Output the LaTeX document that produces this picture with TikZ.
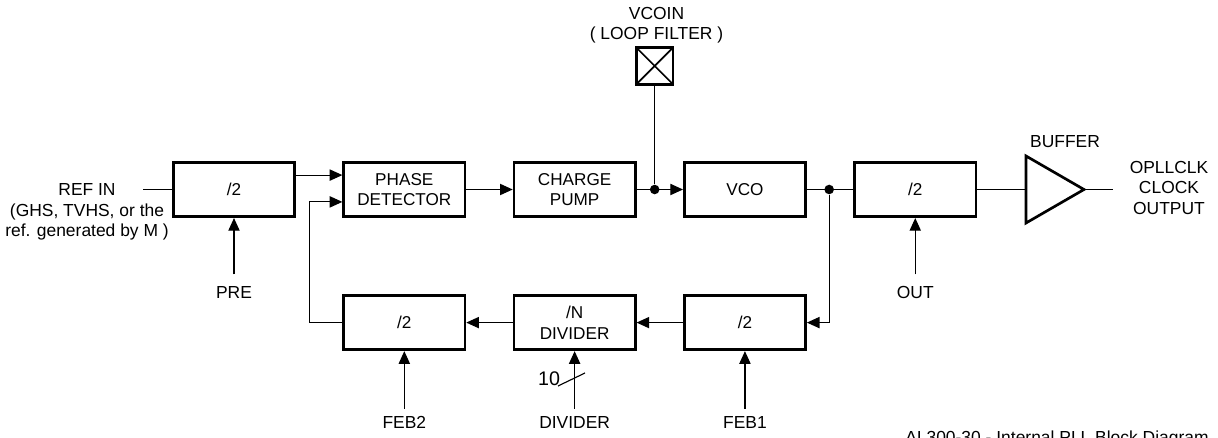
\documentclass[tikz,border=0pt]{standalone}
\usepackage{fontspec}
\setmainfont{Liberation Sans}
\usetikzlibrary{arrows.meta, positioning, calc}
\tikzset{
  block/.style={rectangle, draw, line width=1.9pt,
    minimum width=3.03cm, minimum height=1.36cm, inner sep=0pt,
    align=center, font=\fontsize{12.2}{14.5}\selectfont},
  pinbox/.style={rectangle, draw, line width=1.9pt, minimum size=0.91cm,
    path picture={\draw[line width=1.2pt]
      (path picture bounding box.north west) -- (path picture bounding box.south east)
      (path picture bounding box.south west) -- (path picture bounding box.north east);}},
  lbl/.style={align=center, inner sep=0pt, font=\fontsize{12.4}{14.5}\selectfont},
  dot/.style={circle, fill, inner sep=0pt, minimum size=6.8pt},
  arrow/.style={-{Triangle[length=9pt,width=8pt]}, line width=0.8pt},
  line/.style={line width=0.8pt},
  thickline/.style={line width=1.9pt}
}
\begin{document}
\begin{tikzpicture}[x=0.025cm, y=-0.025cm, node distance=1.9cm and 1.16cm]
  \useasboundingbox (0,0) rectangle (1218,438);
  % forward path
  \node[block] (pre) at (234,189.5) {/2};
  \node[block, right=of pre] (phdet) {PHASE\\DETECTOR};
  \node[block, right=of phdet] (chpump) {CHARGE\\PUMP};
  \node[block, right=of chpump] (vco) {VCO};
  \node[block, right=of vco] (post) {/2};
  % feedback path
  \node[block, below=of phdet] (fbtwo) {/2};
  \node[block, below=of chpump] (ndiv) {/N\\DIVIDER};
  \node[block, below=of vco] (fbone) {/2};
  % buffer
  \coordinate (bufin) at (1026,189.5);
  \coordinate (bufout) at (1084,189.5);
  \draw[thickline] (1026,156) -- (bufout) -- (1026,223) -- cycle;
  \node[lbl] (buflbl) at (1065,142) {BUFFER};
  \coordinate (clkout) at (1113,189.5);
  \node[lbl] (clklbl) at (1169,188) {OPLLCLK\\CLOCK\\OUTPUT};
  % reference input
  \coordinate (refpt) at (143,189.5);
  \node[lbl] (reflbl) at (87,212) {REF IN\\(GHS, TVHS, or the\\ref. generated by M )};
  \draw[line] (refpt) -- (pre.west);
  % phase detector inputs
  \coordinate (phin1) at ($(phdet.west)+(0,0.36cm)$);
  \coordinate (phin2) at ($(phdet.west)+(0,-0.31cm)$);
  \draw[arrow] (pre.east |- phin1) -- (phin1);
  \draw[arrow] (fbtwo.west) -- ++(-0.83cm,0) |- (phin2);
  \draw[arrow] (phdet) -- (chpump);
  % loop filter pin
  \draw[arrow] (chpump) -- (vco);
  \node[dot] (jloop) at ($(chpump.east)!0.39!(vco.west)$) {};
  \node[pinbox] (lpf) at (jloop |- 0,66) {};
  \node[lbl] (lpflbl) at (656.5,25.5) {VCOIN\\( LOOP FILTER )};
  \draw[line] (lpf) -- (jloop);
  % vco output
  \draw[line] (vco) -- (post);
  \node[dot] (jvco) at ($(vco.east)!0.48!(post.west)$) {};
  \draw[arrow] (jvco) |- (fbone.east);
  \draw[line] (post) -- (bufin);
  \draw[line] (bufout) -- (clkout);
  \draw[arrow] (fbone) -- (ndiv);
  \draw[arrow] (ndiv) -- (fbtwo);
  % control inputs
  \node[lbl, below=1.71cm of pre] (prelbl) {PRE};
  \node[lbl, below=1.71cm of post] (outlbl) {OUT};
  \node[lbl, below=1.62cm of fbtwo] (feb2lbl) {FEB2};
  \node[lbl, below=1.62cm of ndiv] (divlbl) {DIVIDER};
  \node[lbl, below=1.62cm of fbone] (feb1lbl) {FEB1};
  \draw[arrow] ([yshift=0.3cm]prelbl.north) -- (pre.south);
  \draw[arrow] ([yshift=0.3cm]outlbl.north) -- (post.south);
  \draw[arrow] ([yshift=0.18cm]feb2lbl.north) -- (fbtwo.south);
  \draw[arrow] ([yshift=0.18cm]divlbl.north) -- (ndiv.south);
  \draw[arrow] ([yshift=0.18cm]feb1lbl.north) -- (fbone.south);
  % bus width mark
  \draw[line] (558,386) -- (585,373);
  \node[lbl, font=\fontsize{14}{16}\selectfont] (buswidth) at (549,379) {10};
  % caption
  \node[lbl, anchor=north west] (caption) at (905,431) {AI 300-30 - Internal PLL Block Diagram};
\end{tikzpicture}
\end{document}
